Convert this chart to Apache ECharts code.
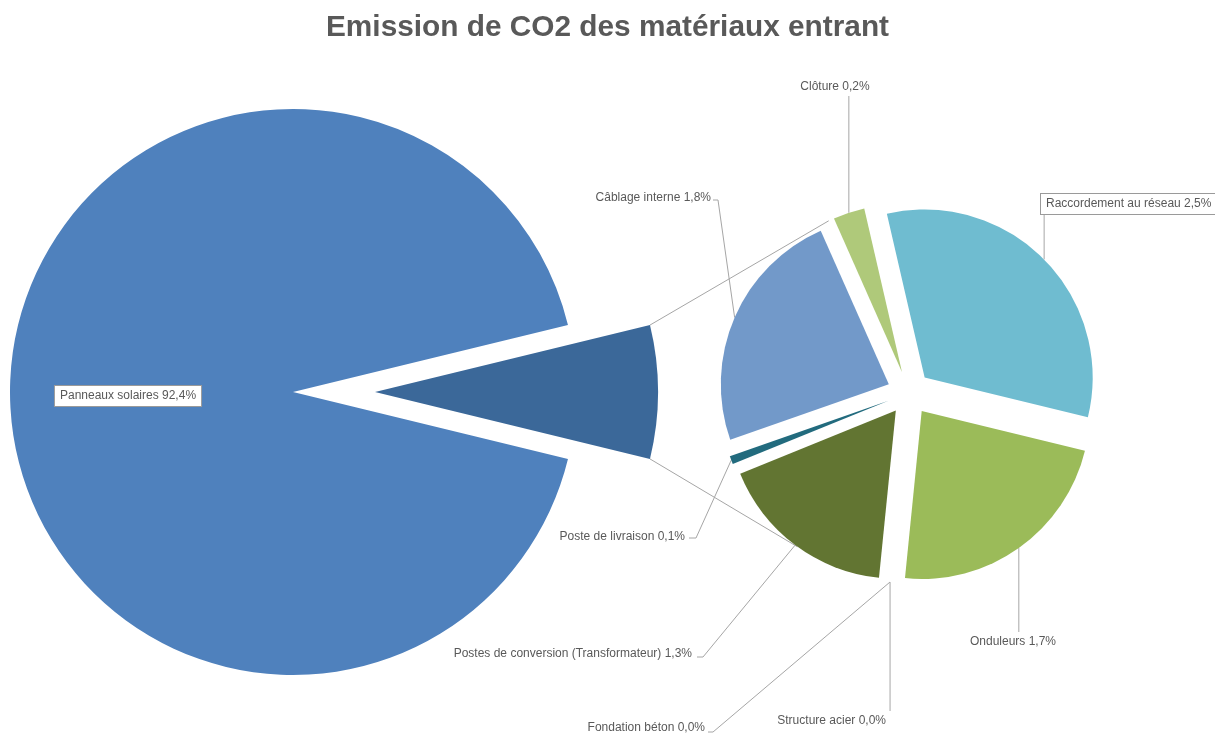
<!DOCTYPE html>
<html><head><meta charset="utf-8">
<script src="https://cdn.jsdelivr.net/npm/echarts@6/dist/echarts.min.js"></script>
<style>html,body{margin:0;padding:0;background:#fff}#c{width:1215px;height:736px}</style>
</head><body><div id="c"></div>
<script>
// ---- data ----
const chartTitle = 'Emission de CO2 des matériaux entrant';
const mainNames = ['Panneaux solaires', 'Autre'];
const mainValues = [92.4, 7.6];
const subNames = ['Raccordement au réseau', 'Onduleurs', 'Structure acier', 'Fondation béton',
  'Postes de conversion (Transformateur)', 'Poste de livraison', 'Câblage interne', 'Clôture'];
const subValues = [2.46, 1.73, 0.0004, 0.0004, 1.31, 0.06, 1.80, 0.23];

// ---- styles / layout ----
const mainColors = ['#4f81bd', '#3b6899'];
const subColors = ['#6fbcd0', '#9bbb59', '#ffffff', '#ffffff', '#627532', '#226b7e', '#7299c9', '#afc97a'];
const C1 = [293, 392], R1 = 283, EXPLODE1 = 82;
const C2 = [909, 393], R2 = 168, EXPLODE2 = 22;
const SUB_START = 103;              // math degrees, clockwise
const CONNECT_ANGLES = [115, -126]; // where series lines meet the secondary pie
const FONT = "'Liberation Sans', Arial, sans-serif";
const TXT = '#595959', LINE = '#a6a6a6';

const mainLabels = [
  {x: 128, y: 396, align: 'center', box: true},
  null
];
const subLabels = [
  {x: 1041, y: 204, align: 'left', box: true, pts: [[null, 215]]},
  {x: 1013, y: 642, align: 'center', pts: [[null, 632]]},
  {x: 886, y: 721, align: 'right', pts: [[null, 711]]},
  {x: 705, y: 728, align: 'right', pts: [[713, 732], [708, 732]]},
  {x: 692, y: 654, align: 'right', pts: [[703, 657], [697, 657]]},
  {x: 685, y: 537, align: 'right', pts: [[696, 538], [689, 538]]},
  {x: 711, y: 198, align: 'right', pts: [[718, 200], [713, 200]]},
  {x: 835, y: 87, align: 'center', pts: [[null, 96]]}
];

function fmt(name, v) { return name + ' ' + v.toFixed(1).replace('.', ',') + '%'; }

function buildSlices(names, values, colors, center, radius, startAngle, offsets, labels) {
  const total = values.reduce((a, b) => a + b, 0);
  let cum = 0;
  const out = [];
  values.forEach((v, i) => {
    const span = v / total * 360;
    const sa = startAngle - cum / total * 360;
    const mid = (sa - span / 2) * Math.PI / 180;
    cum += v;
    const off = offsets[i];
    const cx = center[0] + off * Math.cos(mid), cy = center[1] - off * Math.sin(mid);
    const lab = labels[i];
    out.push({
      type: 'pie', animation: false, silent: true, z: 3,
      center: [cx, cy], radius: radius, startAngle: sa, clockwise: true,
      avoidLabelOverlap: false,
      label: {
        show: !!lab, position: lab && lab.pts ? 'outside' : 'inside',
        formatter: p => fmt(p.name, p.value),
        color: TXT, fontSize: 12, fontFamily: FONT,
        backgroundColor: lab && lab.box ? '#ffffff' : 'transparent',
        borderColor: lab && lab.box ? '#9a9a9a' : 'transparent',
        borderWidth: lab && lab.box ? 1 : 0,
        padding: lab && lab.box ? [4, 5, 4, 5] : 0
      },
      labelLine: {show: !!(lab && lab.pts), lineStyle: {color: LINE, width: 1}},
      labelLayout: function (p) {
        if (!lab || p.dataIndex !== 0) return {};
        const res = {x: lab.x, y: lab.y, align: lab.align, verticalAlign: 'middle'};
        const p0 = p.labelLinePoints && p.labelLinePoints[0];
        if (p0 && lab.pts) {
          res.labelLinePoints = [p0].concat(lab.pts.map(q => [q[0] == null ? p0[0] : q[0], q[1]]));
        }
        return res;
      },
      data: [
        {name: names[i], value: v, itemStyle: {color: colors[i]}},
        {name: '', value: total - v, itemStyle: {color: 'rgba(0,0,0,0)'},
          label: {show: false}, labelLine: {show: false}}
      ]
    });
  });
  return out;
}

const mainTotal = mainValues.reduce((a, b) => a + b, 0);
const otherHalf = mainValues[1] / mainTotal * 360 / 2;
const series = []
  .concat(buildSlices(mainNames, mainValues, mainColors, C1, R1, -otherHalf, [0, EXPLODE1], mainLabels))
  .concat(buildSlices(subNames, subValues, subColors, C2, R2, SUB_START, subNames.map(() => EXPLODE2), subLabels));

// series lines from the exploded slice to the secondary pie
const a = otherHalf * Math.PI / 180;
const ox = C1[0] + EXPLODE1;
const corners = [[ox + R1 * Math.cos(a), C1[1] - R1 * Math.sin(a)], [ox + R1 * Math.cos(a), C1[1] + R1 * Math.sin(a)]];
const ends = CONNECT_ANGLES.map(d => {
  const r = d * Math.PI / 180;
  return [C2[0] + (R2 + EXPLODE2) * Math.cos(r), C2[1] - (R2 + EXPLODE2) * Math.sin(r)];
});
const graphics = corners.map((c, i) => ({
  type: 'line', z: 1, silent: true,
  shape: {x1: c[0], y1: c[1], x2: ends[i][0], y2: ends[i][1]},
  style: {stroke: LINE, lineWidth: 1}
}));

const chart = echarts.init(document.getElementById('c'), null, {renderer: 'canvas'});
chart.setOption({
  backgroundColor: '#ffffff',
  animation: false,
  title: {
    text: chartTitle, left: 'center', top: 8,
    textStyle: {fontSize: 29.8, fontWeight: 'bold', color: TXT, fontFamily: FONT}
  },
  graphic: graphics,
  series: series
});
</script>
</body></html>
